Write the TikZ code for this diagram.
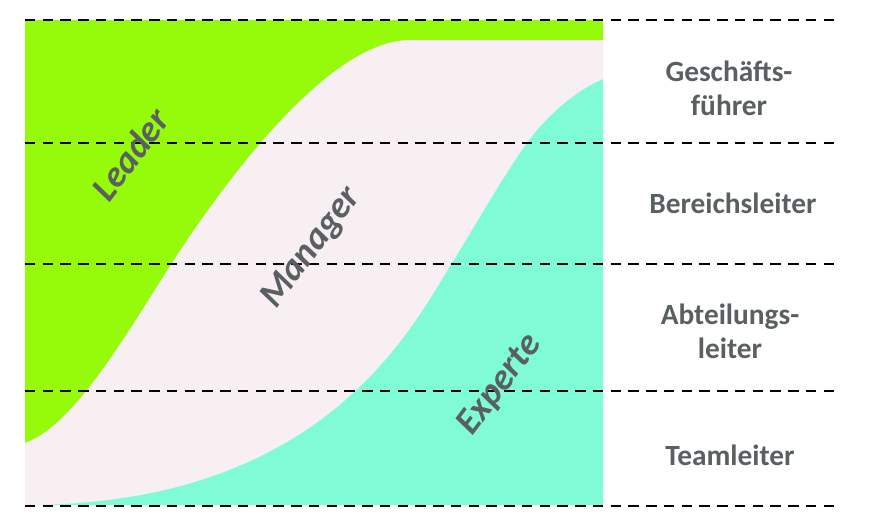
\documentclass[tikz,border=0pt]{standalone}
\usepackage{fontspec}
\setmainfont{Carlito}
\definecolor{leadergreen}{HTML}{95FB0A}
\definecolor{managerpink}{HTML}{F8EFF3}
\definecolor{expertteal}{HTML}{7FFCD6}
\definecolor{labelgray}{HTML}{5A6061}
\tikzset{
  level/.style={black,line width=1.5pt,dash pattern=on 0.21cm off 0.145cm},
  role/.style={labelgray,font=\fontsize{21}{24}\selectfont\bfseries\itshape,rotate=53},
  rank/.style={labelgray,font=\fontsize{16.7}{19.5}\selectfont\bfseries,align=center}
}

\begin{document}
\begin{tikzpicture}[x=0.02cm,y=-0.02cm]
\useasboundingbox (0,0) rectangle (878,522);
\pgfmathsetmacro{\bandr}{603}
\pgfmathsetmacro{\bandb}{505}
% leader band fills everything first
\fill[leadergreen] (25,20) rectangle (\bandr,\bandb);
% manager band between the two s-curves
\fill[managerpink] (25,443) .. controls (75,425) and (127,333) .. (172,263)
  .. controls (227,178) and (330,40) .. (410,40)
  -- (\bandr,40) -- (\bandr,\bandb) -- (25,\bandb) -- cycle;
% expert band
\fill[expertteal] (25,\bandb) .. controls (325,505) and (412,327) .. (452,263)
  .. controls (477,223) and (502,178) .. (527,143)
  .. controls (547,115) and (577,90) .. (\bandr,79)
  -- (\bandr,\bandb) -- cycle;
% level lines
\foreach \y in {20,143,264,391,506}
  \draw[level] (25,\y) -- (836,\y);
% band names
\node[role] (leader) at (130,154) {Leader};
\node[role] (manager) at (312,248) {Manager};
\node[role] (experte) at (500,385) {Experte};
% ranks
\node[rank] (gf) at (729,88) {Geschäfts-\\führer};
\node[rank] (bl) at (733,203) {Bereichsleiter};
\node[rank] (al) at (730,331) {Abteilungs-\\leiter};
\node[rank] (tl) at (730,455) {Teamleiter};
\end{tikzpicture}
\end{document}
